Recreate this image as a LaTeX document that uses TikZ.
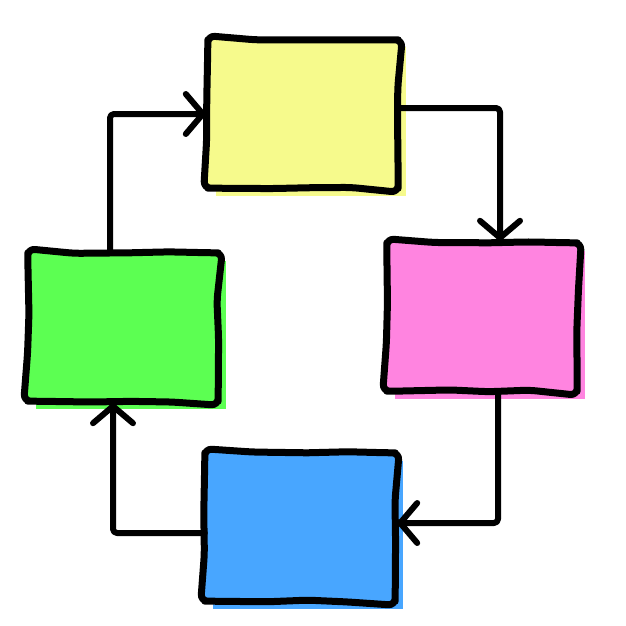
\documentclass[tikz,border=0pt]{standalone}
\usetikzlibrary{arrows.meta,shadows,decorations.pathmorphing}

\definecolor{boxyellow}{RGB}{246,250,140}
\definecolor{boxpink}{RGB}{255,132,224}
\definecolor{boxgreen}{RGB}{92,255,82}
\definecolor{boxblue}{RGB}{72,166,255}

\begin{document}
\begin{tikzpicture}[x=1pt,y=-1pt,
    box/.style={rectangle, minimum width=190pt, minimum height=148pt, inner sep=0pt},
    outline/.style={draw=black, line width=7pt, line join=round, line cap=round,
      decorate, decoration={random steps, segment length=40pt, amplitude=1.5pt},
      rounded corners=7pt},
    link/.style={line width=6pt, line cap=round, line join=round, rounded corners=4pt,
      -{Straight Barb[length=17pt,width=40pt,round]}}]
    \pgfmathsetseed{11}
    \useasboundingbox (0,0) rectangle (626,626);

    \foreach \name/\col/\x/\y in {yellowbox/boxyellow/303/114, pinkbox/boxpink/482/317,
                                  greenbox/boxgreen/123/327, bluebox/boxblue/300/527}
    {
      \node [box, fill=\col, general shadow={fill=\col, shadow xshift=7.5pt, shadow yshift=-7.5pt}]
        (\name) at (\x,\y) {};
      \draw [outline] (\name.north) -- (\name.north east) -- (\name.south east)
        -- (\name.south west) -- (\name.north west) -- cycle;
    }

    \draw [link] ([xshift=-13pt]greenbox.north) |- ([xshift=-2pt]yellowbox.west);
    \draw [link] ([yshift=6pt]yellowbox.east) -| ([xshift=18pt,yshift=2pt]pinkbox.north);
    \draw [link] ([xshift=16pt]pinkbox.south) |- ([xshift=2pt,yshift=4pt]bluebox.east);
    \draw [link] ([yshift=-6pt]bluebox.west) -| ([xshift=-10pt,yshift=-2pt]greenbox.south);
  \end{tikzpicture}
\end{document}
